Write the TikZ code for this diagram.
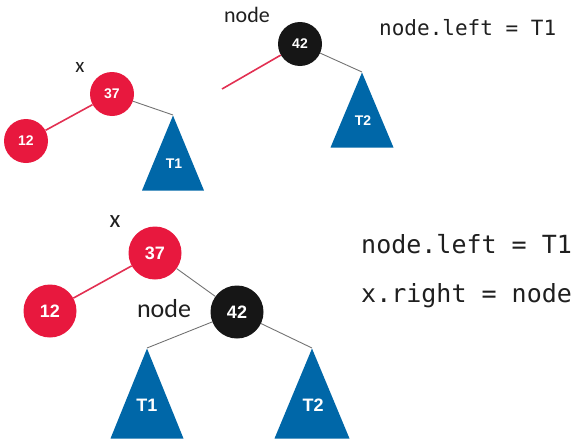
\documentclass[tikz,border=0pt]{standalone}
\usepackage{fontspec}
\newfontfamily\numfont{Liberation Sans}
\newfontfamily\labfont{Carlito}
\newfontfamily\codefont{DejaVu Sans Mono}
\usetikzlibrary{shapes.geometric}
\definecolor{rbred}{RGB}{232,24,62}
\definecolor{rbblack}{RGB}{22,22,22}
\definecolor{subblue}{RGB}{0,103,168}
\definecolor{edgegray}{RGB}{115,115,115}
\definecolor{edgered}{RGB}{226,48,82}
\begin{document}
\begin{tikzpicture}[x=1pt,y=-1pt,
redn/.style={circle,fill=rbred,text=white,inner sep=0pt},
blackn/.style={circle,fill=rbblack,text=white,inner sep=0pt},
subtree/.style={isosceles triangle,isosceles triangle stretches,shape border rotate=90,fill=subblue,inner sep=0pt,anchor=apex},
small/.style={minimum size=44pt,font=\numfont\bfseries\fontsize{14}{14}\selectfont},
big/.style={minimum size=53pt,font=\numfont\bfseries\fontsize{18}{18}\selectfont},
treelab/.style={text=white,inner sep=0pt,font=\numfont\bfseries\fontsize{#1}{#1}\selectfont},
redline/.style={edgered,line width=1.6pt},
grayline/.style={edgegray,line width=0.9pt},
lab/.style={text=black!88,inner sep=0pt}]
\useasboundingbox (0,0) rectangle (580,447);
% before
\node[redn,small](ax37) at (112,94){37};
\node[redn,small](ax12) at (26,141){12};
\node[subtree,minimum width=62pt,minimum height=75pt](at1) at (173,115){};
\node[treelab=14](at1t) at (174,164){T1};
\node[blackn,small](an42) at (300,44){42};
\node[subtree,minimum width=63pt,minimum height=75pt](at2) at (362,72){};
\node[treelab=14](at2t) at (363,121){T2};
\coordinate(aleft) at (222,89);
\draw[redline](ax37)--(ax12);
\draw[grayline](ax37)--(at1.apex);
\draw[redline](an42)--(aleft);
\draw[grayline](an42)--(at2.apex);
\node[lab,font=\labfont\fontsize{21}{21}\selectfont](axlab) at (80,67){x};
\node[lab,font=\labfont\fontsize{22}{22}\selectfont](anlab) at (247,15){node};
\node[lab,anchor=base west,font=\codefont\fontsize{21}{21}\selectfont](acode) at (379,35){node.left = T1};
% after
\node[redn,big](bx37) at (155,253){37};
\node[redn,big](bx12) at (50,311){12};
\node[blackn,big](bn42) at (237,312){42};
\node[subtree,minimum width=73pt,minimum height=90pt](bt1) at (147,348){};
\node[treelab=18](bt1t) at (147,405){T1};
\node[subtree,minimum width=75pt,minimum height=90pt](bt2) at (312,348){};
\node[treelab=18](bt2t) at (313,405){T2};
\draw[redline](bx37)--(bx12);
\draw[grayline](bx37)--(bn42);
\draw[grayline](bn42)--(bt1.apex);
\draw[grayline](bn42)--(bt2.apex);
\node[lab,font=\labfont\fontsize{25}{25}\selectfont](bxlab) at (115,222){x};
\node[lab,font=\labfont\fontsize{26}{26}\selectfont](bnlab) at (164,309){node};
\node[lab,anchor=base west,font=\codefont\fontsize{25}{25}\selectfont](bcode1) at (361,253){node.left = T1};
\node[lab,anchor=base west,font=\codefont\fontsize{25}{25}\selectfont](bcode2) at (361,302){x.right = node};
\end{tikzpicture}
\end{document}
